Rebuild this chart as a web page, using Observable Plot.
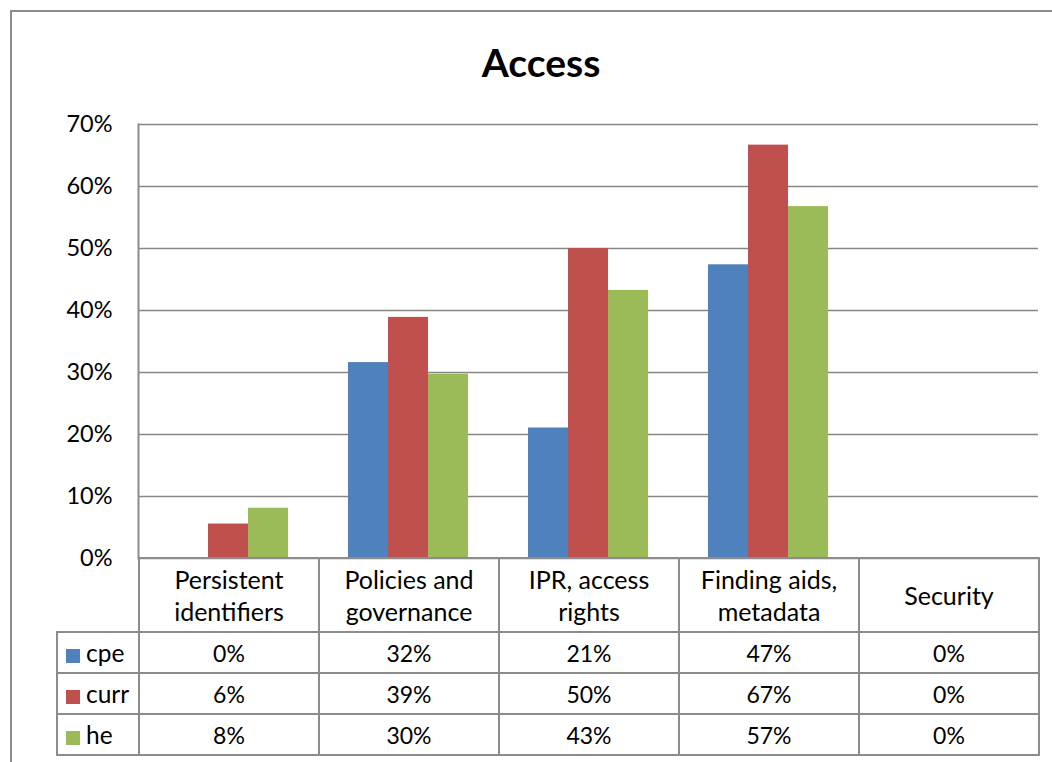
<!DOCTYPE html>
<html>
<head>
<meta charset="utf-8">
<script src="https://cdn.jsdelivr.net/npm/d3@7"></script>
<script src="https://cdn.jsdelivr.net/npm/@observablehq/plot@0.6"></script>
<style>
  body { margin: 0; background: #fff; font-family: Lato, "Open Sans", sans-serif; }
  #wrap { position: relative; width: 1052px; height: 762px; overflow: hidden; background: #fff; }
  #border { position: absolute; left: 10px; top: 10px; width: 1100px; height: 800px;
            border: 2px solid #8c8c8c; box-sizing: border-box; }
  #title { position: absolute; left: 10px; width: 1062px; top: 37px; text-align: center;
           font-weight: bold; font-size: 39px; line-height: 50px; color: #000; }
  #chart { position: absolute; left: 0; top: 0; }
  #table { position: absolute; left: 56px; top: 557px; border-collapse: collapse;
           table-layout: fixed; font-size: 23px; color: #000; }
  #table td { border: 2px solid #8c8c8c; text-align: center; padding: 0; height: 39px;
              line-height: 30px; white-space: pre-line; }
  #table tr.head td { height: 72px; font-size: 25px; line-height: 32px; }
  #table td.blank { border-top: none; border-left: none; }
  #table td.key { text-align: left; padding-left: 8px; font-size: 24.5px; }
  .sw { display: inline-block; width: 14px; height: 14px; margin-right: 6px; vertical-align: -1px; }
</style>
</head>
<body>
<div id="wrap">
  <div id="border"></div>
  <div id="title">Access</div>
  <div id="chart"></div>
  <table id="table"></table>
</div>
<script>
// Access topics and the three respondent groups
const categories = ["Persistent\nidentifiers", "Policies and\ngovernance", "IPR, access\nrights", "Finding aids,\nmetadata", "Security"];
const series = ["cpe", "curr", "he"];
const cpe  = [0, 0.316, 0.2105, 0.4737, 0];
const curr = [0.0556, 0.3889, 0.5, 0.6667, 0];
const he   = [0.0811, 0.2973, 0.4324, 0.5676, 0];
const colors = ["#4F81BD", "#C0504D", "#9BBB59"];
const yTicks = [0, 0.1, 0.2, 0.3, 0.4, 0.5, 0.6, 0.7];

const valuesBySeries = {cpe, curr, he};
const data = series.flatMap(s => categories.map((c, i) => ({category: c, series: s, value: valuesBySeries[s][i]})));
const pct = d3.format(".0%");

const chart = Plot.plot({
  width: 1052,
  height: 580,
  marginTop: 124,
  marginBottom: 22,
  marginLeft: 138,
  marginRight: 14,
  style: {background: "transparent", fontFamily: "Lato, 'Open Sans', sans-serif"},
  fx: {domain: categories, padding: 0, axis: null},
  x: {domain: series, paddingInner: 0, paddingOuter: 0.75, axis: null},
  y: {domain: [0, 0.7], axis: null},
  color: {domain: series, range: colors},
  marks: [
    Plot.gridY(yTicks, {stroke: "#868686", strokeOpacity: 1, strokeWidth: 1.4}),
    Plot.barY(data, {fx: "category", x: "series", y: "value", fill: "series"}),
    Plot.frame({anchor: "left", facetAnchor: "left", stroke: "#8c8c8c", strokeWidth: 2}),
    Plot.axisY(yTicks, {tickFormat: pct, tickSize: 0, tickPadding: 26, fontSize: 23.5, fill: "#000", label: null})
  ]
});
document.getElementById("chart").appendChild(chart);

// Data table below the plot: category headers, then one row per series
const table = d3.select("#table");
const cols = table.append("colgroup");
cols.append("col").style("width", "82px");
categories.forEach(() => cols.append("col").style("width", "180px"));
const head = table.append("tr").attr("class", "head");
head.append("td").attr("class", "blank");
categories.forEach(c => head.append("td").text(c));
series.forEach((s, k) => {
  const tr = table.append("tr");
  const key = tr.append("td").attr("class", "key");
  key.append("span").attr("class", "sw").style("background", colors[k]);
  key.append("span").text(s);
  valuesBySeries[s].forEach(v => tr.append("td").text(pct(v)));
});
</script>
</body>
</html>
